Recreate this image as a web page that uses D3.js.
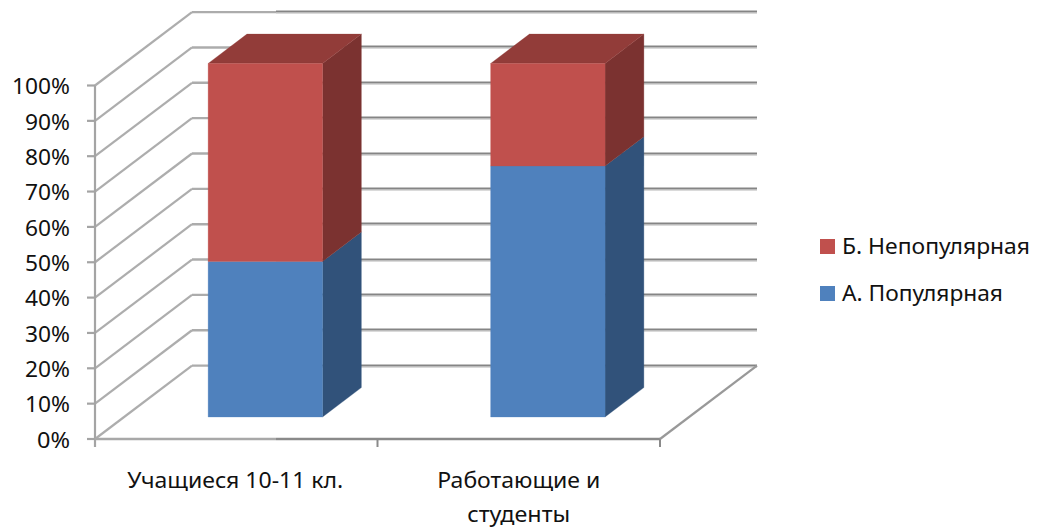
<!DOCTYPE html>
<html lang="ru"><head><meta charset="utf-8">
<script src="https://cdn.jsdelivr.net/npm/d3@7/dist/d3.min.js"></script>
<style>html,body{margin:0;background:#fff}svg{display:block}text{font-family:"Noto Sans",sans-serif;fill:#111}</style>
</head><body><svg id="c" width="1038" height="531"></svg>
<script>
const categories = ["Учащиеся 10-11 кл.", "Работающие и студенты"];
const seriesNames = ["А. Популярная", "Б. Непопулярная"];
const popular = [44, 71];
const unpopular = [56, 29];
const tickValues = [0,10,20,30,40,50,60,70,80,90,100];
const colors = {
  front: ["#4f81bd", "#c0504d"],
  side:  ["#31527a", "#7b3230"],
  top:   ["#3e6797", "#923c39"]
};
const svg = d3.select("#c");
const x = d3.scaleBand().domain(categories).range([95, 660]);
const y = d3.scaleLinear().domain([0, 100]).range([439, 85.5]);
const DX = 97, DY = -73.4;               // oblique depth vector
const BARW = 0.405, D0 = 0.3, D1 = 0.7;  // bar width, depth start/end
const P = (px, v, d) => [px + d * DX, y(v) + d * DY];
const line = d3.line();
const floorRight = x.range()[1], splitX = 276;

// gridlines and left wall
function hline(x1, x2, yy, col, w) {
  svg.append("line").attr("x1", x1).attr("x2", x2).attr("y1", yy).attr("y2", yy)
    .attr("stroke", col).attr("stroke-width", w);
}
tickValues.forEach(t => {
  const a = P(95, t, 0), b = P(95, t, 1), e = P(floorRight, t, 1);
  svg.append("path").attr("d", line([a, b])).attr("fill", "none").attr("stroke", "#adadad").attr("stroke-width", 2.2);
  hline(b[0], splitX, b[1], "#acacac", 2.4);
  const gy = Math.round(b[1]);
  hline(splitX, e[0], gy - 0.5, "#858585", 2);
  hline(splitX, e[0], gy + 1, "#b5b5b5", 1);
  hline(87, 95, a[1], "#a4a4a4", 2.2);
  svg.append("text").attr("x", 70).attr("y", a[1] + 8.8).attr("text-anchor", "end")
    .attr("font-size", 21.5).attr("textLength", t === 100 ? 58 : t === 0 ? 33 : 45)
    .attr("lengthAdjust", "spacingAndGlyphs").text(t + "%");
});
// axes and floor
svg.append("line").attr("x1", 95).attr("x2", 95).attr("y1", y(100)).attr("y2", 447).attr("stroke", "#a4a4a4").attr("stroke-width", 2.2);
hline(95, splitX, y(0), "#a8a8a8", 2.6);
hline(splitX, floorRight, y(0), "#8a8a8a", 2.6);
[x.range()[0] + x.step(), floorRight].forEach(px =>
  svg.append("line").attr("x1", px).attr("x2", px).attr("y1", y(0)).attr("y2", 447).attr("stroke", "#8a8a8a").attr("stroke-width", 2));
svg.append("path").attr("d", line([P(floorRight, 0, 0), P(floorRight, 0, 1)])).attr("fill", "none").attr("stroke", "#999").attr("stroke-width", 2.2);

// stacked 3D bars
const rows = categories.map((c, i) => ({ c, a: popular[i], b: unpopular[i] }));
const stacked = d3.stack().keys(["a", "b"])(rows);
const poly = (pts, fill) => svg.append("path").attr("d", line(pts) + "Z").attr("fill", fill).attr("stroke", fill).attr("stroke-width", 0.3);
stacked.forEach((s, si) => {
  s.forEach(d => {
    const cx = x(d.data.c) + x.step() / 2;
    const L = cx - BARW * x.step() / 2, R = cx + BARW * x.step() / 2;
    const [v0, v1] = d;
    poly([P(R, v0, D0), P(R, v0, D1), P(R, v1, D1), P(R, v1, D0)], colors.side[si]);
    if (si === stacked.length - 1)
      poly([P(L, v1, D0), P(L, v1, D1), P(R, v1, D1), P(R, v1, D0)], colors.top[si]);
    poly([P(L, v0, D0), P(R, v0, D0), P(R, v1, D0), P(L, v1, D0)], colors.front[si]);
  });
});

// category labels
const labelLines = [[categories[0]], ["Работающие и", "студенты"]];
const labelLen = [[216], [163, 103]];
labelLines.forEach((ls, i) => ls.forEach((t, j) => {
  svg.append("text").attr("x", x(categories[i]) + x.step() / 2 + (i ? 0 : -1)).attr("y", 488 + j * 33.5)
    .attr("text-anchor", "middle").attr("font-size", 21).attr("textLength", labelLen[i][j])
    .attr("lengthAdjust", "spacingAndGlyphs").text(t);
}));

// legend
const legendY = [254, 301], legendLen = [188, 161];
[1, 0].forEach((si, k) => {
  svg.append("rect").attr("x", 820).attr("y", [239, 286][k]).attr("width", 15).attr("height", 15).attr("fill", colors.front[si]);
  svg.append("text").attr("x", 842).attr("y", legendY[k]).attr("font-size", 21)
    .attr("textLength", legendLen[k]).attr("lengthAdjust", "spacingAndGlyphs").text(seriesNames[si]);
});
</script></body></html>
